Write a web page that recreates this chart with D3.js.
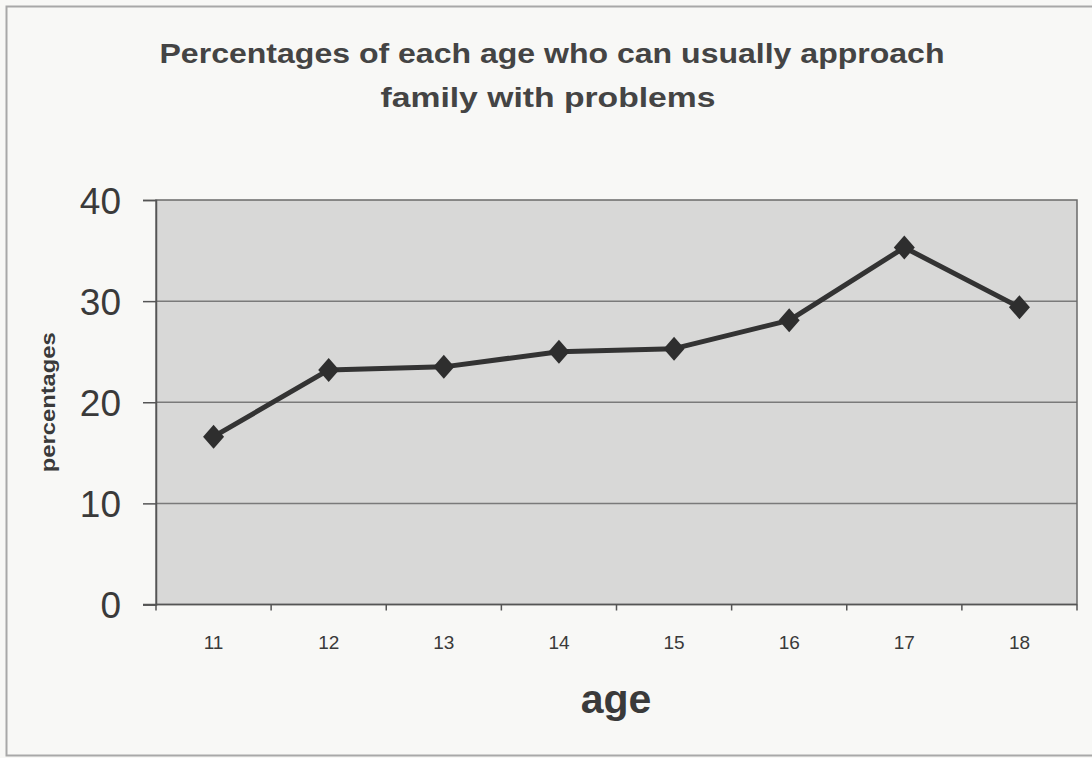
<!DOCTYPE html>
<html>
<head>
<meta charset="utf-8">
<script src="https://cdn.jsdelivr.net/npm/d3@7"></script>
<style>
  html, body { margin: 0; padding: 0; background: #ffffff; }
  svg { display: block; }
</style>
</head>
<body>
<script>
// Share of each age group who can usually approach family with problems
const ages = ["11", "12", "13", "14", "15", "16", "17", "18"];
const percentages = [16.6, 23.2, 23.5, 25.0, 25.3, 28.1, 35.3, 29.4];
const yTicks = [0, 10, 20, 30, 40];
const titleLines = ["Percentages of each age who can usually approach", "family with problems"];

const W = 1092, H = 758;
const plot = { left: 156, right: 1077, top: 200, bottom: 604.5 };
const FONT = "'Liberation Sans', Arial, sans-serif";

const svg = d3.select("body").append("svg")
  .attr("width", W).attr("height", H);

// page background and frame
svg.append("rect").attr("width", W).attr("height", H).attr("fill", "#f8f8f6");
svg.append("rect")
  .attr("x", 6.5).attr("y", 6.5).attr("width", W + 10).attr("height", 749)
  .attr("fill", "none").attr("stroke", "#a8a8a8").attr("stroke-width", 2);

const x = d3.scaleBand().domain(ages).range([plot.left, plot.right]);
const y = d3.scaleLinear().domain([0, 40]).range([plot.bottom, plot.top]);

// plot area
svg.append("rect")
  .attr("x", plot.left).attr("y", plot.top)
  .attr("width", plot.right - plot.left).attr("height", plot.bottom - plot.top)
  .attr("fill", "#d8d8d7");

// horizontal gridlines
svg.append("g").selectAll("line").data(yTicks.filter(d => d > 0 && d < 40)).join("line")
  .attr("x1", plot.left).attr("x2", plot.right)
  .attr("y1", d => y(d)).attr("y2", d => y(d))
  .attr("stroke", "#7a7a7a").attr("stroke-width", 1.5);

// plot border
svg.append("rect")
  .attr("x", plot.left).attr("y", plot.top)
  .attr("width", plot.right - plot.left).attr("height", plot.bottom - plot.top)
  .attr("fill", "none").attr("stroke", "#6a6a6a").attr("stroke-width", 1.5);

// y axis
const yAxis = svg.append("g")
  .attr("transform", `translate(${plot.left},0)`)
  .call(d3.axisLeft(y).tickValues(yTicks).tickSize(13).tickPadding(22).tickFormat(d3.format("d")));
yAxis.select(".domain").attr("stroke", "#555").attr("stroke-width", 1.5);
yAxis.selectAll(".tick line").attr("stroke", "#555").attr("stroke-width", 1.5);
yAxis.selectAll(".tick text")
  .attr("fill", "#3a3a3a")
  .style("font-family", FONT)
  .style("font-size", "37px")
  .attr("dy", "0.36em");

// x axis: ticks sit on category boundaries
const xAxis = svg.append("g")
  .attr("transform", `translate(0,${plot.bottom})`)
  .call(d3.axisBottom(x).tickSize(0).tickPadding(31));
xAxis.select(".domain").remove();
xAxis.selectAll(".tick text")
  .attr("fill", "#3a3a3a")
  .style("font-family", FONT)
  .style("font-size", "19px");
const bounds = ages.map(a => x(a)).concat([x(ages[ages.length - 1]) + x.bandwidth()]);
svg.append("line")
  .attr("x1", plot.left - 13).attr("x2", plot.right)
  .attr("y1", plot.bottom).attr("y2", plot.bottom)
  .attr("stroke", "#555").attr("stroke-width", 1.5);
svg.append("g").selectAll("line").data(bounds).join("line")
  .attr("x1", d => d).attr("x2", d => d)
  .attr("y1", plot.bottom).attr("y2", plot.bottom + 6)
  .attr("stroke", "#555").attr("stroke-width", 1.5);

// series line
const cx = d => x(d) + x.bandwidth() / 2;
const pts = ages.map((a, i) => [cx(a), y(percentages[i])]);
svg.append("path")
  .datum(pts)
  .attr("d", d3.line())
  .attr("fill", "none").attr("stroke", "#333333").attr("stroke-width", 5)
  .attr("stroke-linejoin", "round");

// diamond markers
svg.append("g").selectAll("path").data(pts).join("path")
  .attr("transform", d => `translate(${d[0]},${d[1]})`)
  .attr("d", "M0,-12L10.5,0L0,12L-10.5,0Z")
  .attr("fill", "#2e2e2e");

// title
const title = svg.append("text")
  .attr("text-anchor", "middle")
  .attr("fill", "#444")
  .style("font-family", FONT)
  .style("font-weight", "bold")
  .style("font-size", "28px");
title.append("tspan").attr("x", 552).attr("y", 63)
  .attr("textLength", 785).attr("lengthAdjust", "spacingAndGlyphs").text(titleLines[0]);
title.append("tspan").attr("x", 548).attr("y", 107)
  .attr("textLength", 335).attr("lengthAdjust", "spacingAndGlyphs").text(titleLines[1]);

// axis titles
svg.append("text")
  .attr("transform", `translate(55,${(plot.top + plot.bottom) / 2}) rotate(-90)`)
  .attr("text-anchor", "middle")
  .attr("fill", "#3a3a3a")
  .style("font-family", FONT)
  .style("font-weight", "bold")
  .style("font-size", "20px")
  .attr("textLength", 140).attr("lengthAdjust", "spacingAndGlyphs")
  .text("percentages");

svg.append("text")
  .attr("x", 616).attr("y", 713)
  .attr("text-anchor", "middle")
  .attr("fill", "#3a3a3a")
  .style("font-family", FONT)
  .style("font-weight", "bold")
  .style("font-size", "41px")
  .text("age");
</script>
</body>
</html>
